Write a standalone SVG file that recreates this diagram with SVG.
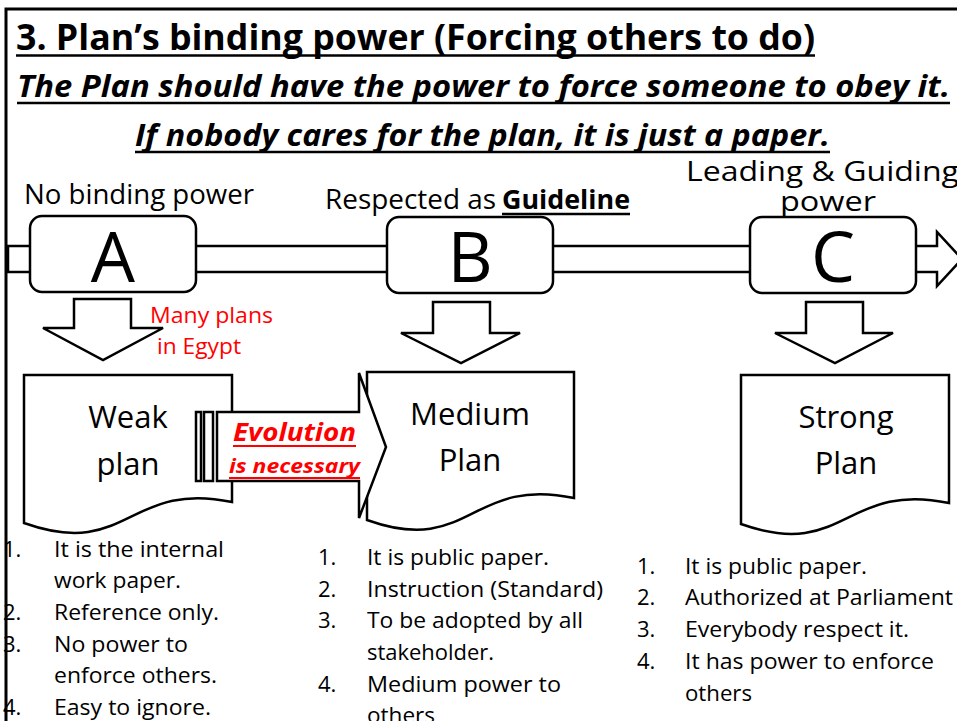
<svg xmlns="http://www.w3.org/2000/svg" width="957" height="721" viewBox="0 0 957 721">
<style>
text{font-family:"Open Sans","Noto Sans",sans-serif;fill:#000}
.sh{fill:#fff;stroke:#000;stroke-width:2.5;stroke-linejoin:miter}
.big{font-size:70px;text-anchor:middle}
.lbl{font-size:27px}
.doc{font-size:31px;text-anchor:middle}
.red{fill:#ff0000}
.ul{stroke:#000;stroke-width:2.5}
.ulr{stroke:#ff0000;stroke-width:2}
</style>
<rect width="957" height="721" fill="#fff"/>
<g id="heading">
<text x="16" y="50" font-size="36" font-weight="bold" textLength="799" lengthAdjust="spacingAndGlyphs">3. Plan’s binding power (Forcing others to do)</text>
<line class="ul" x1="16" y1="55.5" x2="815" y2="55.5"/>
<text x="17" y="97" font-size="31" font-weight="bold" font-style="italic" textLength="933" lengthAdjust="spacingAndGlyphs">The Plan should have the power to force someone to obey it.</text>
<line class="ul" x1="17" y1="103" x2="950" y2="103"/>
<text x="135" y="146" font-size="31" font-weight="bold" font-style="italic" textLength="695" lengthAdjust="spacingAndGlyphs">If nobody cares for the plan, it is just a paper.</text>
<line class="ul" x1="135" y1="152" x2="830" y2="152"/>
</g>
<g id="connectors">
<polygon id="main-arrow" class="sh" points="8,246 937,246 937,232 962,259 937,286 937,272 8,272"/>
<polygon id="down-A" class="sh" points="74,299 131,299 131,328 163,328 103,360 43,328 74,328"/>
<polygon id="down-B" class="sh" points="433,302 490,302 490,333 520,333 461,363 401,333 433,333"/>
<polygon id="down-C" class="sh" points="806,302 863,302 863,333 893,333 835,363 775,333 806,333"/>
</g>
<g id="node-A">
<rect class="sh" x="30" y="216" width="166" height="76" rx="12"/>
<text class="big" x="113" y="282">A</text>
<text class="lbl" x="24" y="204" textLength="230" lengthAdjust="spacingAndGlyphs">No binding power</text>
</g>
<g id="node-B">
<rect class="sh" x="387" y="217" width="166" height="76" rx="12"/>
<text class="big" x="470" y="282">B</text>
<text class="lbl" x="325" y="209" textLength="171" lengthAdjust="spacingAndGlyphs">Respected as</text>
<text class="lbl" x="502" y="209" font-weight="bold" textLength="128" lengthAdjust="spacingAndGlyphs">Guideline</text>
<line class="ul" x1="502" y1="214" x2="630" y2="214"/>
</g>
<g id="node-C">
<rect class="sh" x="750" y="217" width="166" height="76" rx="12"/>
<text class="big" x="833" y="282">C</text>
<text class="lbl" x="686" y="181" textLength="273" lengthAdjust="spacingAndGlyphs">Leading &amp; Guiding</text>
<text class="lbl" x="780" y="211" textLength="96" lengthAdjust="spacingAndGlyphs">power</text>
</g>
<g id="note-egypt">
<text class="red" x="150" y="323" font-size="22" textLength="123" lengthAdjust="spacingAndGlyphs">Many plans</text>
<text class="red" x="157" y="354" font-size="22" textLength="84" lengthAdjust="spacingAndGlyphs">in Egypt</text>
</g>
<g id="doc-weak">
<path class="sh" d="M24,375 H232 V502 C128,480 128,560 24,523 Z"/>
<text class="doc" x="128" y="428">Weak</text>
<text class="doc" x="128" y="475">plan</text>
</g>
<g id="doc-medium">
<path class="sh" d="M367,372 H574 V498 C470,476 470,557 367,520 Z"/>
<text class="doc" x="470" y="425">Medium</text>
<text class="doc" x="470" y="471">Plan</text>
</g>
<g id="doc-strong">
<path class="sh" d="M741,375 H949 V503 C845,481 845,561 741,524 Z"/>
<text class="doc" x="846" y="428">Strong</text>
<text class="doc" x="846" y="474">Plan</text>
</g>
<g id="evolution-arrow">
<rect class="sh" x="196" y="412" width="5" height="69"/>
<rect class="sh" x="204" y="412" width="9" height="69"/>
<polygon class="sh" points="217,412 359,412 359,373 386,447 359,518 359,481 217,481"/>
<text class="red" x="233" y="441" font-size="25" font-weight="bold" font-style="italic" textLength="123" lengthAdjust="spacingAndGlyphs">Evolution</text>
<line class="ulr" x1="233" y1="446" x2="356" y2="446"/>
<text class="red" x="229" y="473" font-size="20" font-weight="bold" font-style="italic" textLength="131" lengthAdjust="spacingAndGlyphs">is necessary</text>
<line class="ulr" x1="229" y1="478" x2="360" y2="478"/>
</g>
<g id="list-weak">
<text x="3" y="557" font-size="22">1.</text>
<text x="54" y="557" font-size="22" textLength="170" lengthAdjust="spacingAndGlyphs">It is the internal</text>
<text x="54" y="588" font-size="22" textLength="127" lengthAdjust="spacingAndGlyphs">work paper.</text>
<text x="3" y="620" font-size="22">2.</text>
<text x="54" y="620" font-size="22" textLength="165" lengthAdjust="spacingAndGlyphs">Reference only.</text>
<text x="3" y="652" font-size="22">3.</text>
<text x="54" y="652" font-size="22" textLength="134" lengthAdjust="spacingAndGlyphs">No power to</text>
<text x="54" y="683" font-size="22" textLength="163" lengthAdjust="spacingAndGlyphs">enforce others.</text>
<text x="3" y="715" font-size="22">4.</text>
<text x="54" y="715" font-size="22" textLength="157" lengthAdjust="spacingAndGlyphs">Easy to ignore.</text>
</g>
<g id="list-medium">
<text x="318" y="565" font-size="22">1.</text>
<text x="367" y="565" font-size="22" textLength="182" lengthAdjust="spacingAndGlyphs">It is public paper.</text>
<text x="318" y="597" font-size="22">2.</text>
<text x="367" y="597" font-size="22" textLength="236" lengthAdjust="spacingAndGlyphs">Instruction (Standard)</text>
<text x="318" y="628" font-size="22">3.</text>
<text x="367" y="628" font-size="22" textLength="216" lengthAdjust="spacingAndGlyphs">To be adopted by all</text>
<text x="367" y="660" font-size="22" textLength="127" lengthAdjust="spacingAndGlyphs">stakeholder.</text>
<text x="318" y="692" font-size="22">4.</text>
<text x="367" y="692" font-size="22" textLength="194" lengthAdjust="spacingAndGlyphs">Medium power to</text>
<text x="367" y="723" font-size="22" textLength="68" lengthAdjust="spacingAndGlyphs">others</text>
</g>
<g id="list-strong">
<text x="637" y="574" font-size="22">1.</text>
<text x="685" y="574" font-size="22" textLength="182" lengthAdjust="spacingAndGlyphs">It is public paper.</text>
<text x="637" y="605" font-size="22">2.</text>
<text x="685" y="605" font-size="22" textLength="268" lengthAdjust="spacingAndGlyphs">Authorized at Parliament</text>
<text x="637" y="637" font-size="22">3.</text>
<text x="685" y="637" font-size="22" textLength="224" lengthAdjust="spacingAndGlyphs">Everybody respect it.</text>
<text x="637" y="669" font-size="22">4.</text>
<text x="685" y="669" font-size="22" textLength="249" lengthAdjust="spacingAndGlyphs">It has power to enforce</text>
<text x="685" y="701" font-size="22" textLength="67" lengthAdjust="spacingAndGlyphs">others</text>
</g>
<g id="frame">
<path d="M6,721 V9 H957" fill="none" stroke="#000" stroke-width="3"/>
</g>
</svg>
